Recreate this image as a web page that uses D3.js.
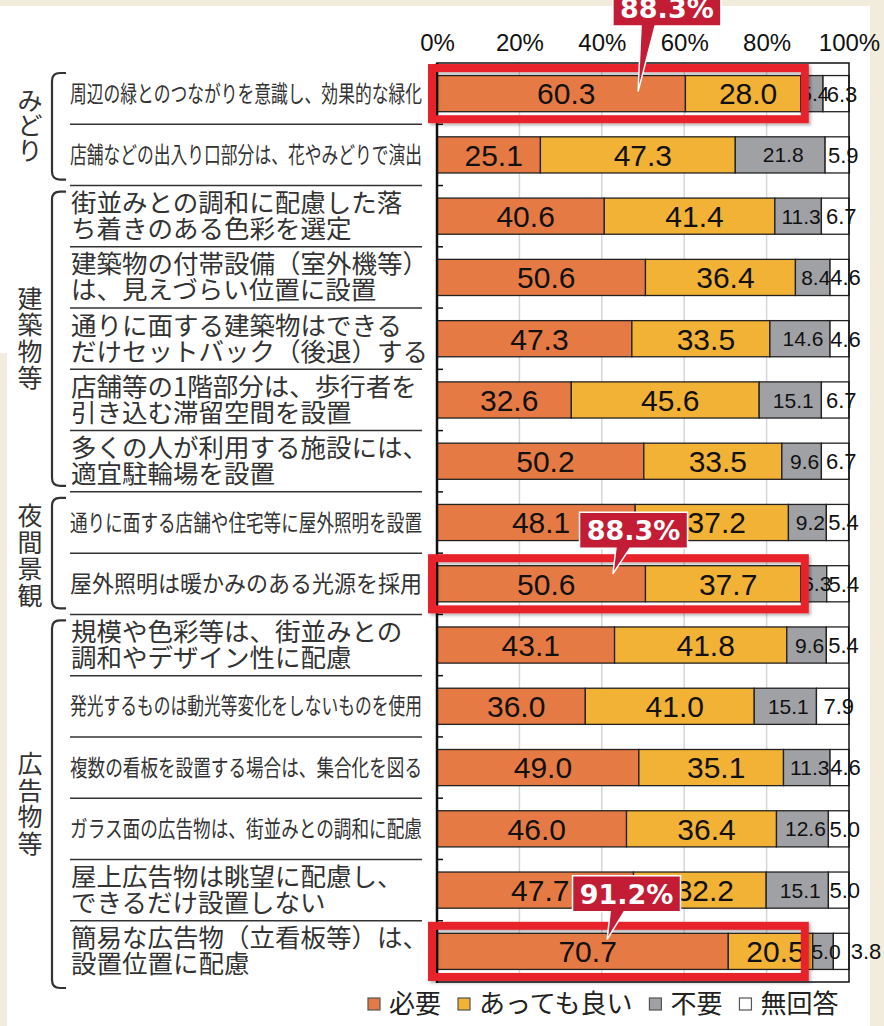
<!DOCTYPE html>
<html><head><meta charset="utf-8">
<script src="https://cdn.jsdelivr.net/npm/d3@7"></script>
<style>html,body{margin:0;padding:0;background:#f2ecdc;} svg{display:block}</style>
</head><body><svg id="c" width="884" height="1026"></svg>
<script>
const categories = [
 "周辺の緑とのつながりを意識し、効果的な緑化",
 "店舗などの出入り口部分は、花やみどりで演出",
 "街並みとの調和に配慮した落\nち着きのある色彩を選定",
 "建築物の付帯設備（室外機等）\nは、見えづらい位置に設置",
 "通りに面する建築物はできる\nだけセットバック（後退）する",
 "店舗等の1階部分は、歩行者を\n引き込む滞留空間を設置",
 "多くの人が利用する施設には、\n適宜駐輪場を設置",
 "通りに面する店舗や住宅等に屋外照明を設置",
 "屋外照明は暖かみのある光源を採用",
 "規模や色彩等は、街並みとの\n調和やデザイン性に配慮",
 "発光するものは動光等変化をしないものを使用",
 "複数の看板を設置する場合は、集合化を図る",
 "ガラス面の広告物は、街並みとの調和に配慮",
 "屋上広告物は眺望に配慮し、\nできるだけ設置しない",
 "簡易な広告物（立看板等）は、\n設置位置に配慮"
];
const seriesNames = ["必要", "あっても良い", "不要", "無回答"];
const need      = [60.3, 25.1, 40.6, 50.6, 47.3, 32.6, 50.2, 48.1, 50.6, 43.1, 36.0, 49.0, 46.0, 47.7, 70.7];
const okToHave  = [28.0, 47.3, 41.4, 36.4, 33.5, 45.6, 33.5, 37.2, 37.7, 41.8, 41.0, 35.1, 36.4, 32.2, 20.5];
const notNeeded = [ 5.4, 21.8, 11.3,  8.4, 14.6, 15.1,  9.6,  9.2,  6.3,  9.6, 15.1, 11.3, 12.6, 15.1,  5.0];
const noAnswer  = [ 6.3,  5.9,  6.7,  4.6,  4.6,  6.7,  6.7,  5.4,  5.4,  5.4,  7.9,  4.6,  5.0,  5.0,  3.8];
const groupNames = ["みどり", "建築物等", "夜間景観", "広告物等"];
const groupSizes = [2, 5, 2, 6];
const xTicks = [0, 20, 40, 60, 80, 100];
const highlightRows = [0, 8, 14];

const colors = ["#e57a44", "#f2b236", "#a0a1a5", "#ffffff"];
const svg = d3.select("#c");

// background panel
svg.append("rect").attr("x",0).attr("y",0).attr("width",884).attr("height",1026).attr("fill","#f2ecdc");
svg.append("rect").attr("x",0).attr("y",6).attr("width",870).attr("height",1020).attr("fill","#ffffff");
svg.append("rect").attr("x",0).attr("y",353).attr("width",7).attr("height",673).attr("fill","#f2ecdc");

const defs = svg.append("defs");
const f = defs.append("filter").attr("id","sh").attr("x","-5%").attr("y","-20%").attr("width","115%").attr("height","150%");
f.append("feDropShadow").attr("dx",2).attr("dy",2).attr("stdDeviation",1.5).attr("flood-color","#000").attr("flood-opacity",0.3);

const x = d3.scaleLinear().domain([0,100]).range([437,849]);
const y = d3.scaleBand().domain(d3.range(categories.length)).range([63,982]).paddingInner(0.41).paddingOuter(0.205);
const step = y.step();
const bandTop = i => y(i) - step*0.205;
const bandCenter = i => y(i) + y.bandwidth()/2;

const rows = categories.map((c,i)=>({i, c, "必要":need[i], "あっても良い":okToHave[i], "不要":notNeeded[i], "無回答":noAnswer[i]}));
const stacked = d3.stack().keys(seriesNames)(rows);

// gridlines
svg.append("g").selectAll("line").data(xTicks.filter(t=>t>0&&t<100)).join("line")
  .attr("x1",d=>x(d)).attr("x2",d=>x(d)).attr("y1",63).attr("y2",982)
  .attr("stroke","#d6d6d6").attr("stroke-width",1.5);

// top axis labels
const ax = svg.append("g").attr("transform","translate(0,51)")
  .call(d3.axisTop(x).tickValues(xTicks).tickFormat(d=>d+"%").tickSize(0).tickPadding(0));
ax.select(".domain").remove();
ax.selectAll("text").attr("font-family","'Liberation Sans', Arial, sans-serif").attr("font-size",24).attr("fill","#111");

// bars
const sg = svg.append("g").selectAll("g").data(stacked).join("g").attr("fill",(d,k)=>colors[k]);
sg.selectAll("rect").data(d=>d).join("rect")
  .attr("x",d=>x(d[0])).attr("width",d=>x(d[1])-x(d[0]))
  .attr("y",(d,i)=>y(i)).attr("height",y.bandwidth())
  .attr("stroke","#222").attr("stroke-width",1.3);

// frame
const fr = svg.append("g").attr("fill","none").attr("stroke","#111");
fr.append("rect").attr("x",x(0)).attr("y",63).attr("width",x(100)-x(0)).attr("height",982-63).attr("stroke-width",1.5);
fr.append("line").attr("x1",x(0)).attr("x2",x(0)).attr("y1",63).attr("y2",983).attr("stroke-width",2.5);
// inward ticks at band boundaries
svg.append("g").selectAll("line").data(d3.range(1,categories.length)).join("line")
  .attr("x1",x(0)).attr("x2",x(0)+6).attr("y1",d=>bandTop(d)).attr("y2",d=>bandTop(d))
  .attr("stroke","#111").attr("stroke-width",1.5);

// bar value labels
const fs = [30, 30, 21, 22];
const dxs = [5, 5, 3, 6];
const lg = svg.append("g").attr("font-family","'Liberation Sans', Arial, sans-serif").attr("fill","#111").attr("text-anchor","middle");
stacked.forEach((s,k)=>{
  lg.append("g").selectAll("text").data(s).join("text")
    .attr("x",(d,i)=>{
      const v = d[1]-d[0];
      if (k===3 && v<4) return x(100)+17;
      return x((d[0]+d[1])/2)+dxs[k];
    })
    .attr("y",(d,i)=>bandCenter(i)+0.36*fs[k])
    .attr("font-size",fs[k])
    .text(d=>(d[1]-d[0]).toFixed(1));
});

// category labels
const cl = svg.append("g").attr("font-family","'Noto Sans CJK JP', sans-serif").attr("fill","#333");
categories.forEach((c,i)=>{
  const lines = c.split("\n");
  const cy = bandCenter(i);
  if (lines.length===1) {
    cl.append("text").attr("x",70).attr("y",cy+8).attr("font-size",23)
      .attr("textLength",352).attr("lengthAdjust","spacingAndGlyphs").text(lines[0]);
  } else {
    lines.forEach((l,j)=>{
      cl.append("text").attr("x",71).attr("y",cy-13+j*26+9).attr("font-size",25.5).text(l);
    });
  }
});
// separators
svg.append("g").selectAll("line").data(d3.range(1,categories.length)).join("line")
  .attr("x1",70).attr("x2",422).attr("y1",d=>bandTop(d)).attr("y2",d=>bandTop(d))
  .attr("stroke","#333").attr("stroke-width",1.5);

// group brackets and labels
let start = 0;
const gg = svg.append("g");
groupNames.forEach((g,gi)=>{
  const end = start + groupSizes[gi] - 1;
  const top = bandTop(start) + (gi===0 ? 10 : 6);
  const bot = bandTop(end) + step + (gi===groupNames.length-1 ? 6 : -6);
  const x0 = 52, x1 = 66, r = 8;
  gg.append("path").attr("d",`M${x1},${top} H${x0+r} Q${x0},${top} ${x0},${top+r} V${bot-r} Q${x0},${bot} ${x0+r},${bot} H${x1}`)
    .attr("fill","none").attr("stroke","#333").attr("stroke-width",2.2);
  const chars = Array.from(g);
  const mid = (top+bot)/2 + (gi===2?3:0);
  const cstep = chars.length===3 ? 25 : 26.5;
  chars.forEach((ch,j)=>{
    gg.append("text").attr("x",30).attr("y",mid + (j-(chars.length-1)/2)*cstep + 9)
      .attr("text-anchor","middle").attr("font-family","'Noto Sans CJK JP', sans-serif")
      .attr("font-size",25).attr("fill","#333").text(ch);
  });
  start = end + 1;
});

// highlight boxes (all the same width, ending at the smallest highlighted total)
const boxEnd = d3.min(highlightRows, r => need[r] + okToHave[r]);
const hb = svg.append("g");
hb.selectAll("rect").data(highlightRows).join("rect")
  .attr("x",x(0)-5).attr("width",x(boxEnd)+4-(x(0)-5))
  .attr("y",d=>y(d)-7.5).attr("height",y.bandwidth()+15)
  .attr("fill","none").attr("stroke","#e8202a").attr("stroke-width",8).attr("filter","url(#sh)");

// callouts (box center % / tip % / box bottom relative to band top / tip offset from bar center)
const calloutBoxPct = [55.8, 47.7, 46.0];
const calloutTipPct = [48.8, 42.7, 41.3];
const calloutBottomDy = [-37, -5, -9];
const calloutTipDy = [-2, -10, -12];
const co = svg.append("g");
highlightRows.forEach((r,k)=>{
  const cx = x(calloutBoxPct[k]);
  const w = 108, h = 36;
  const yb = bandTop(r) + calloutBottomDy[k];
  const yt = yb - h;
  const tipX = x(calloutTipPct[k]), tipY = bandCenter(r) + calloutTipDy[k];
  const bx1 = tipX + 3, bx2 = tipX + 17;
  co.append("path")
    .attr("d",`M${cx-w/2},${yt} H${cx+w/2} V${yb} H${bx2} L${tipX},${tipY} L${bx1},${yb} H${cx-w/2} Z`)
    .attr("fill","#c21d34").attr("stroke","#fff").attr("stroke-width",1.5).attr("stroke-linejoin","miter");
  co.append("text").attr("x",cx).attr("y",yb-8).attr("text-anchor","middle")
    .attr("font-family","'DejaVu Sans', sans-serif").attr("font-weight","bold").attr("font-size",27)
    .attr("fill","#fff").text((need[r]+okToHave[r]).toFixed(1)+"%");
});

// legend
const leg = svg.append("g");
let lx = 368;
seriesNames.forEach((n,k)=>{
  leg.append("rect").attr("x",lx).attr("y",998).attr("width",12).attr("height",12)
    .attr("fill",colors[k]).attr("stroke","#555").attr("stroke-width",1.2);
  const t = leg.append("text").attr("x",lx+21).attr("y",1013).attr("font-family","'Noto Sans CJK JP', sans-serif")
    .attr("font-size",26).attr("fill","#222").text(n);
  lx += 21 + t.node().getComputedTextLength() + 17;
});
</script></body></html>
